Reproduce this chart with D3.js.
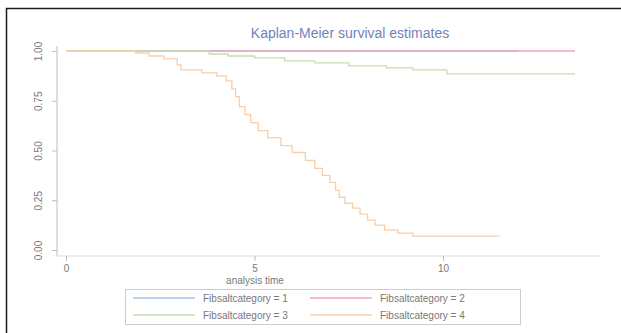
<!DOCTYPE html>
<html>
<head>
<meta charset="utf-8">
<script src="https://cdn.jsdelivr.net/npm/d3@7"></script>
<style>
  html, body { margin: 0; padding: 0; background: #ffffff; }
  svg { display: block; }
  text { font-family: "Liberation Sans", Arial, sans-serif; }
</style>
</head>
<body>
<svg id="chart" width="621" height="333"></svg>
<script>
// Kaplan-Meier step data: event times and survival after each step
const group1Times = [0, 12.0];
const group1Surv  = [1.0, 1.0];

const group2Times = [0, 13.5];
const group2Surv  = [1.0, 1.0];

const group3Times = [0, 3.8, 4.3, 5.0, 5.8, 6.6, 7.5, 8.5, 9.2, 10.1, 13.5];
const group3Surv  = [1.0, 0.985, 0.975, 0.965, 0.95, 0.94, 0.925, 0.915, 0.905, 0.885, 0.885];

const group4Times = [0, 1.85, 2.2, 2.6, 2.95, 3.05, 3.6, 4.0, 4.25, 4.4, 4.5, 4.6, 4.75, 4.9,
                     5.1, 5.35, 5.7, 6.0, 6.35, 6.6, 6.8, 7.0, 7.15, 7.25, 7.4, 7.6, 7.8,
                     8.0, 8.2, 8.45, 8.8, 9.2, 11.5];
const group4Surv  = [1.0, 0.99, 0.975, 0.96, 0.93, 0.905, 0.89, 0.875, 0.85, 0.81, 0.77, 0.72, 0.68, 0.64,
                     0.60, 0.565, 0.525, 0.49, 0.45, 0.41, 0.375, 0.34, 0.30, 0.265, 0.235, 0.21, 0.18,
                     0.15, 0.125, 0.10, 0.085, 0.07, 0.07];

const seriesNames  = ["Fibsaltcategory = 1", "Fibsaltcategory = 2", "Fibsaltcategory = 3", "Fibsaltcategory = 4"];
const seriesColors = ["#a4c6e4", "#f0a8b4", "#c2e0ae", "#f8cfa8"];

const xTicks = [0, 5, 10];
const yTicks = [0, 0.25, 0.5, 0.75, 1];
const titleText = "Kaplan-Meier survival estimates";
const xTitle = "analysis time";

const svg = d3.select("#chart");

// outer frame
svg.append("rect")
  .attr("x", 6.5).attr("y", 8.5)
  .attr("width", 640).attr("height", 340)
  .attr("fill", "#ffffff")
  .attr("stroke", "#1a1a1a").attr("stroke-width", 1.5);

const x = d3.scaleLinear().domain([0, 10]).range([66, 443]);
const y = d3.scaleLinear().domain([0, 1]).range([250, 51]);

// title
svg.append("text")
  .attr("x", 350).attr("y", 38)
  .attr("text-anchor", "middle")
  .attr("font-size", 14)
  .attr("fill", "#7282c0")
  .text(titleText);

// y axis
const yAxis = svg.append("g")
  .attr("transform", "translate(57,0)")
  .call(d3.axisLeft(y).tickValues(yTicks).tickFormat(d3.format(".2f")).tickSize(5).tickPadding(4));
yAxis.select(".domain").attr("stroke", "#bdbdbd").attr("d", `M0,46V256`);
yAxis.selectAll(".tick line").attr("stroke", "#bdbdbd");
yAxis.selectAll(".tick text")
  .attr("fill", "#787878")
  .attr("font-size", 10)
  .attr("transform", "rotate(-90)")
  .attr("x", 0).attr("y", -15)
  .attr("dy", "0")
  .attr("text-anchor", "middle");

// x axis
const xAxis = svg.append("g")
  .attr("transform", "translate(0,256)")
  .call(d3.axisBottom(x).tickValues(xTicks).tickFormat(d3.format("d")).tickSize(5).tickPadding(4));
xAxis.select(".domain").attr("stroke", "#dcdcdc").attr("d", `M57,0H600`);
xAxis.selectAll(".tick line").attr("stroke", "#bdbdbd");
xAxis.selectAll(".tick text").attr("fill", "#787878").attr("font-size", 10);

svg.append("text")
  .attr("x", 255).attr("y", 284)
  .attr("text-anchor", "middle")
  .attr("font-size", 10)
  .attr("fill", "#787878")
  .text(xTitle);

// survival step curves
const allSeries = [
  [group1Times, group1Surv],
  [group2Times, group2Surv],
  [group3Times, group3Surv],
  [group4Times, group4Surv]
];
const line = d3.line()
  .x(d => x(d[0]))
  .y(d => y(d[1]))
  .curve(d3.curveStepAfter);

allSeries.forEach(([t, s], i) => {
  const pts = t.map((v, k) => [v, s[k]]);
  svg.append("path")
    .datum(pts)
    .attr("fill", "none")
    .attr("stroke", seriesColors[i])
    .attr("stroke-width", 1.3)
    .attr("d", line);
});

// legend
const lg = svg.append("g");
lg.append("rect")
  .attr("x", 125.5).attr("y", 289.5)
  .attr("width", 395).attr("height", 35)
  .attr("fill", "#ffffff")
  .attr("stroke", "#cccccc").attr("stroke-width", 1);

const legendCols = [133, 310];
const legendRows = [298, 315];
seriesNames.forEach((name, i) => {
  const cx = legendCols[i % 2];
  const cy = legendRows[Math.floor(i / 2)];
  lg.append("line")
    .attr("x1", cx).attr("x2", cx + 62)
    .attr("y1", cy).attr("y2", cy)
    .attr("stroke", seriesColors[i]).attr("stroke-width", 1.3);
  lg.append("text")
    .attr("x", cx + 70).attr("y", cy + 3.5)
    .attr("font-size", 10)
    .attr("fill", "#787878")
    .text(name);
});
</script>
</body>
</html>
